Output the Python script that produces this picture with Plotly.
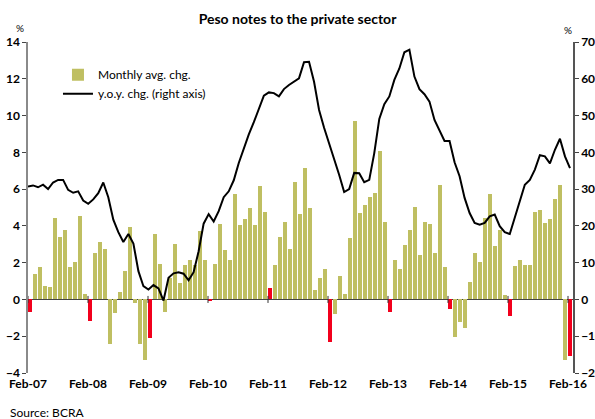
import plotly.graph_objects as go

years = ["07", "08", "09", "10", "11", "12", "13", "14", "15", "16"]
month_names = ["Jan", "Feb", "Mar", "Apr", "May", "Jun", "Jul", "Aug", "Sep", "Oct", "Nov", "Dec"]

# Monthly avg. change (%), Feb-07 .. Feb-16
monthly_chg = [
    -0.69, 1.36, 1.74, 0.71, 0.65, 4.41, 3.38, 3.80, 1.79, 2.06, 4.56, 0.27,
    -1.18, 2.50, 3.15, 2.77, -2.44, -0.74, 0.40, 1.57, 3.92, -0.20, -2.44, -3.29,
    -2.10, 3.58, 1.95, -0.67, 1.18, 3.04, 0.89, 1.90, 2.12, 1.90, 3.74, 2.12,
    -0.05, 1.95, 4.09, 2.71, 2.12, 5.71, 4.07, 4.38, 4.95, 4.07, 6.18, 4.77,
    0.60, 1.90, 3.38, 4.23, 2.77, 6.36, 4.67, 7.16, 4.99, 0.49, 1.19, 1.63,
    -2.31, -0.80, 1.25, 0.27, 3.36, 9.71, 4.72, 5.15, 5.59, 5.80, 8.05, 4.23,
    -0.69, 2.17, 1.68, 2.98, 3.80, 5.05, 2.44, 4.23, 4.12, 2.55, 6.24, 1.79,
    -0.52, -2.04, -1.23, -1.57, 0.94, 2.50, 2.06, 4.45, 5.75, 2.93, 3.80, 0.22,
    -0.92, 1.84, 2.12, 1.90, 1.90, 4.77, 4.88, 4.18, 4.39, 5.48, 6.24, -3.29,
    -3.07,
]

# y.o.y. change (%), right axis
yoy_chg = [
    30.7, 31.0, 30.5, 31.2, 30.0, 31.8, 32.5, 32.5, 29.8, 29.0, 29.4, 26.9,
    26.0, 27.2, 28.9, 31.8, 27.8, 21.7, 18.3, 15.6, 17.8, 15.2, 7.7, 3.6,
    2.7, 3.9, 3.0, -0.3, 5.9, 7.1, 7.4, 7.0, 5.2, 7.4, 13.1, 20.6,
    23.2, 21.2, 24.0, 27.8, 29.4, 32.4, 37.1, 41.1, 44.9, 48.2, 51.8, 55.4,
    56.3, 56.1, 55.2, 57.2, 58.3, 59.2, 60.1, 64.5, 64.6, 59.2, 51.5, 46.7,
    42.5, 38.4, 33.9, 29.2, 30.0, 34.4, 34.3, 31.9, 32.5, 39.8, 49.1, 53.1,
    55.2, 59.7, 62.8, 67.2, 67.9, 60.6, 57.2, 55.8, 53.8, 48.8, 46.1, 43.1,
    43.1, 37.3, 33.5, 27.6, 23.5, 20.8, 20.3, 20.8, 22.6, 23.1, 19.9, 18.3,
    17.8, 22.3, 26.7, 31.2, 32.5, 35.3, 39.2, 38.9, 37.0, 40.7, 43.7, 38.9,
    35.7,
]

# month labels Feb-07 .. Feb-16
labels = []
for y in years:
    for m in month_names:
        labels.append(f"{m}-{y}")
labels = labels[1:1 + len(monthly_chg)]

idx = list(range(len(monthly_chg)))
tick_vals = [i for i, l in enumerate(labels) if l.startswith("Feb")]
tick_text = [labels[i] for i in tick_vals]

olive_x = [i for i in idx if not labels[i].startswith("Feb")]
olive_y = [monthly_chg[i] for i in olive_x]
red_x = [i for i in idx if labels[i].startswith("Feb")]
red_y = [monthly_chg[i] for i in red_x]

OLIVE = "#BFBF62"
RED = "#F2001C"
FONT = "Lato"

fig = go.Figure()
fig.add_trace(go.Bar(x=olive_x, y=olive_y, name="Monthly avg. chg.",
                     marker=dict(color=OLIVE, line=dict(width=0)),
                     width=0.74, offset=0))
fig.add_trace(go.Bar(x=red_x, y=red_y, name="Feb", showlegend=False,
                     marker=dict(color=RED, line=dict(width=0)),
                     width=0.74, offset=0))
fig.add_trace(go.Scatter(x=idx, y=yoy_chg, name="y.o.y. chg. (right axis)",
                         mode="lines", line=dict(color="black", width=2),
                         xaxis="x2", yaxis="y2"))
# small tick marks on the zero line at the Feb positions
fig.add_trace(go.Scatter(x=tick_vals, y=[0] * len(tick_vals), mode="markers",
                         marker=dict(symbol="line-ns", size=5,
                                     line=dict(color="#333333", width=1)),
                         showlegend=False, hoverinfo="skip"))

fig.update_layout(
    width=595, height=419,
    margin=dict(l=28, r=22, t=42, b=46, autoexpand=False),
    paper_bgcolor="white", plot_bgcolor="white",
    font=dict(family=FONT, size=12, color="black"),
    barmode="overlay", bargap=0,
    showlegend=True,
    legend=dict(x=0.055, y=0.945, xanchor="left", yanchor="top",
                bgcolor="rgba(0,0,0,0)", font=dict(size=12, family=FONT),
                itemwidth=30, tracegroupgap=0),
    title=dict(text="<b>Peso notes to the private sector</b>", x=0.5, xanchor="center",
               y=0.955, yanchor="middle", font=dict(size=14, family=FONT)),
    xaxis=dict(range=[0, 109], tickvals=tick_vals, ticktext=tick_text,
               showgrid=False, zeroline=False, showline=False, ticks="",
               automargin=False, ticklabelstandoff=2,
               tickfont=dict(size=12, family=FONT, weight="bold")),
    xaxis2=dict(range=[0, 108.6], overlaying="x", visible=False, anchor="y2",
                automargin=False),
    yaxis=dict(range=[-4, 14], dtick=2, showgrid=False, automargin=False,
               zeroline=True, zerolinecolor="#444444", zerolinewidth=1,
               showline=True, linecolor="#8a8a8a", linewidth=1.5,
               ticks="outside", ticklen=4, tickcolor="#444444",
               tickfont=dict(size=12, family=FONT, weight="bold")),
    yaxis2=dict(range=[-20, 70], dtick=10, overlaying="y", side="right",
                anchor="x2", showgrid=False, zeroline=False, automargin=False,
                showline=True, linecolor="#555555", linewidth=1.5,
                ticks="outside", ticklen=4, tickcolor="#444444",
                tickfont=dict(size=12, family=FONT, weight="bold")),
    annotations=[
        dict(text="%", xref="paper", yref="paper", x=-0.026, y=1.065,
             showarrow=False, font=dict(size=10, family=FONT)),
        dict(text="%", xref="paper", yref="paper", x=1.002, y=1.06,
             showarrow=False, font=dict(size=10, family=FONT)),
        dict(text="Source: BCRA", xref="paper", yref="paper", x=-0.036, y=-0.092,
             xanchor="left", yanchor="top", showarrow=False,
             font=dict(size=12, family=FONT)),
    ],
)

fig.write_html(
    "out.html",
    config={"displayModeBar": False},
    post_script="document.body.style.margin='0';document.body.style.overflow='hidden';",
)
